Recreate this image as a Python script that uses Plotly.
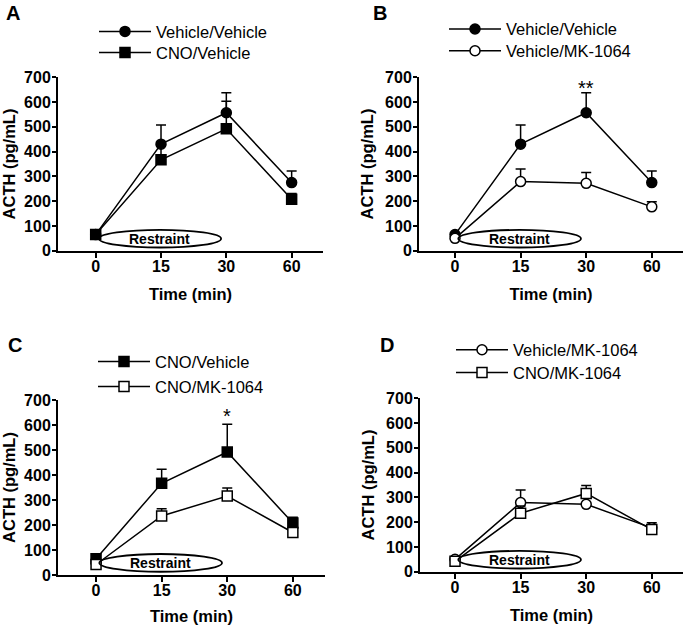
import plotly.graph_objects as go

# ---------------- data ----------------
TIME_LABELS = ["0", "15", "30", "60"]

veh_veh = [65, 430, 557, 275]
veh_veh_err = [4, 77, 81, 47]

cno_veh = [65, 367, 492, 208]
cno_veh_err = [4, 56, 111, 23]

veh_mk = [50, 279, 272, 177]
veh_mk_err = [4, 51, 44, 21]

cno_mk = [42, 236, 316, 170]
cno_mk_err = [3, 29, 32, 8]

PANEL_LETTERS = ["A", "B", "C", "D"]
SIG_MARKS = {"B": "**", "C": "*"}
SIG_Y = {"B": 656, "C": 636}

W, H = 685, 625
FONT = "Liberation Sans"

# ---------------- styling helpers ----------------
def style(kind):
    if kind == "vv":
        return dict(symbol="circle", size=10, color="black", line=dict(color="black", width=1.5))
    if kind == "cv":
        return dict(symbol="square", size=10, color="black", line=dict(color="black", width=1.5))
    if kind == "vm":
        return dict(symbol="circle", size=10, color="white", line=dict(color="black", width=1.5))
    return dict(symbol="square", size=10, color="white", line=dict(color="black", width=1.5))

SERIES = {
    "vv": ("Vehicle/Vehicle", veh_veh, veh_veh_err),
    "cv": ("CNO/Vehicle", cno_veh, cno_veh_err),
    "vm": ("Vehicle/MK-1064", veh_mk, veh_mk_err),
    "cm": ("CNO/MK-1064", cno_mk, cno_mk_err),
}

panels = [
    dict(letter="A", ax="", series=["vv", "cv"], xpx=(58, 323), ypx=(250.7, 77.3),
         xr=(-0.577, 3.48), leg=[(125, 31.7), (125, 52.7)], letter_xy=(13, 13)),
    dict(letter="B", ax="2", series=["vv", "vm"], xpx=(419, 683), ypx=(250.7, 77.3),
         xr=(-0.549, 3.476), leg=[(475, 29.3), (475, 51.0)], letter_xy=(380, 13)),
    dict(letter="C", ax="3", series=["cv", "cm"], xpx=(58, 325), ypx=(575, 400),
         xr=(-0.58, 3.49), leg=[(124, 361.7), (124, 386.7)], letter_xy=(14.5, 345)),
    dict(letter="D", ax="4", series=["vm", "cm"], xpx=(420, 683), ypx=(571.7, 398.3),
         xr=(-0.534, 3.476), leg=[(482, 350), (482, 372.7)], letter_xy=(387, 345)),
]

ITEM_W = 52

fig = go.Figure()
annotations = []
shapes = []
legend_layouts = {}
leg_count = 0

for p in panels:
    xa = "x" + p["ax"]
    ya = "y" + p["ax"]
    for key, (lx, ly) in zip(p["series"], p["leg"]):
        leg_count += 1
        legname = "legend" if leg_count == 1 else f"legend{leg_count}"
        name, vals, err = SERIES[key]
        fig.add_trace(go.Scatter(
            x=TIME_LABELS, y=vals, name=name, mode="lines+markers",
            xaxis=xa, yaxis=ya, legend=legname,
            line=dict(color="black", width=1.5),
            marker=style(key),
            error_y=dict(type="data", array=err, arrayminus=[0] * len(err), symmetric=False,
                         color="black", thickness=1.5, width=5),
            cliponaxis=False,
        ))
        legend_layouts[legname] = dict(
            x=(lx - (ITEM_W / 2 + 5)) / W, y=1 - ly / H, xanchor="left", yanchor="middle",
            bgcolor="rgba(0,0,0,0)", borderwidth=0, itemwidth=ITEM_W,
            font=dict(family=FONT, size=16.5, color="black"),
            tracegroupgap=0,
        )

    x0, x1 = p["xpx"]
    yb, yt = p["ypx"]
    xaxis_key = "xaxis" + p["ax"]
    yaxis_key = "yaxis" + p["ax"]
    fig.layout[xaxis_key] = dict(
        domain=[x0 / W, x1 / W], anchor=ya, type="category",
        range=list(p["xr"]), showgrid=False, zeroline=False,
        showline=True, linecolor="black", linewidth=2,
        ticks="outside", ticklen=5, tickwidth=1.5, tickcolor="black",
        ticklabelstandoff=-5,
        tickfont=dict(family=FONT, size=16, color="black", weight="bold"),
        title=dict(text="Time (min)", font=dict(family=FONT, size=16.5, color="black", weight="bold"),
                   standoff=15),
        automargin=False, fixedrange=True,
    )
    fig.layout[yaxis_key] = dict(
        domain=[1 - yb / H, 1 - yt / H], anchor=xa,
        range=[0, 700], dtick=100, showgrid=False, zeroline=False,
        showline=True, linecolor="black", linewidth=2,
        ticks="outside", ticklen=4, tickwidth=1.5, tickcolor="black",
        ticklabelstandoff=-2,
        tickfont=dict(family=FONT, size=16, color="black", weight="bold"),
        title=dict(text="ACTH (pg/mL)", font=dict(family=FONT, size=16.5, color="black", weight="bold"),
                   standoff=7),
        automargin=False, fixedrange=True,
    )

    shapes.append(dict(type="circle", xref=xa, yref=ya, x0=0.05, x1=1.92, y0=13, y1=84,
                       line=dict(color="black", width=1.8), layer="above"))
    annotations.append(dict(text="Restraint", xref=xa, yref=ya, x=0.98, y=47, showarrow=False,
                            font=dict(family=FONT, size=14, color="black", weight="bold")))

    lx, ly = p["letter_xy"]
    annotations.append(dict(text=p["letter"], xref="paper", yref="paper", x=lx / W, y=1 - ly / H,
                            xanchor="center", yanchor="middle", showarrow=False,
                            font=dict(family=FONT, size=20, color="black", weight="bold")))

    if p["letter"] in SIG_MARKS:
        annotations.append(dict(text=SIG_MARKS[p["letter"]], xref=xa, yref=ya,
                                x=TIME_LABELS.index("30"),
                                y=SIG_Y[p["letter"]], showarrow=False, yanchor="middle",
                                font=dict(family=FONT, size=20, color="black")))

fig.update_layout(
    width=W, height=H, margin=dict(l=0, r=0, t=0, b=0, autoexpand=False),
    paper_bgcolor="white", plot_bgcolor="white",
    annotations=annotations, shapes=shapes, showlegend=True,
    **legend_layouts,
)

fig.write_html("out.html", config={"displayModeBar": False},
               post_script="document.body.style.margin='0px';")
